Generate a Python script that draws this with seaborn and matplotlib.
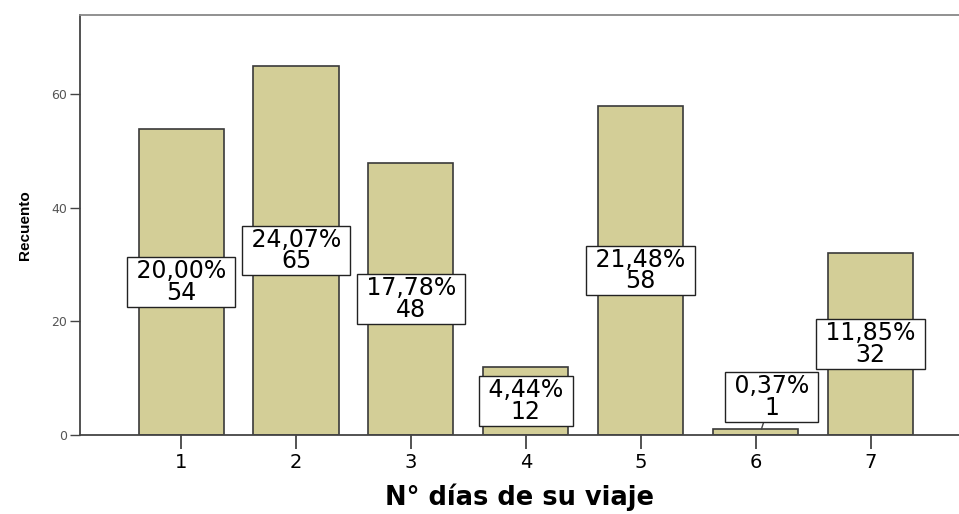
import numpy as np
import pandas as pd
import matplotlib
matplotlib.use("Agg")
import matplotlib.pyplot as plt
import seaborn as sns

# Data
dias = ["1", "2", "3", "4", "5", "6", "7"]
recuento = [54, 65, 48, 12, 58, 1, 32]
porcentaje = ["20,00%", "24,07%", "17,78%", "4,44%", "21,48%", "0,37%", "11,85%"]

sns.set_style("white")
plt.rcParams['font.family'] = ['DejaVu Sans']
plt.rcParams['text.color'] = 'black'
plt.rcParams['axes.labelcolor'] = 'black'

df = pd.DataFrame({"dias": dias, "recuento": recuento})

fig = plt.figure(figsize=(9.59, 5.14), dpi=100)
ax = fig.add_axes([0.0834, 0.1537, 0.9166, 0.8171])

sns.barplot(data=df, x="dias", y="recuento", color="#d3ce97", saturation=1,
            width=0.74, edgecolor="#3a3a3a", linewidth=1.2, ax=ax)

ax.set_xlim(-0.88, 6.77)
ax.set_ylim(0, 74)
ax.set_yticks([0, 20, 40, 60])

box = dict(boxstyle="square,pad=0.08", fc="white", ec="#222222", lw=1)

# Labels in white boxes, centred in each bar
for i, (v, p) in enumerate(zip(recuento, porcentaje)):
    label = f" {p} \n{v}"
    if v < 5:
        # tiny bar: box above it with a short leader line
        ax.annotate(label, xy=(i + 0.05, v), xytext=(i + 0.14, 6.7),
                    ha="center", va="center", fontsize=17, linespacing=0.88,
                    bbox=box,
                    arrowprops=dict(arrowstyle="-", color="#444444", lw=1,
                                    shrinkA=0, shrinkB=0))
    else:
        ax.text(i, v / 2, label, ha="center", va="center", fontsize=17,
                linespacing=0.88, bbox=box)

for side in ["left", "bottom"]:
    ax.spines[side].set_color("#444444")
    ax.spines[side].set_linewidth(1.3)
ax.spines["top"].set_color("#888888")
ax.spines["top"].set_linewidth(1.3)
ax.spines["right"].set_visible(False)

ax.tick_params(axis="y", direction="out", length=7, width=1, color="#444444",
               labelsize=9, labelcolor="#555555", left=True, pad=2)
ax.tick_params(axis="x", direction="out", length=10, width=1.3, color="#444444",
               labelsize=14, labelcolor="black", bottom=True, pad=3)

ax.set_ylabel("Recuento", fontsize=11, fontweight="bold", labelpad=14,
              family=["Liberation Sans Narrow", "Liberation Sans"])
ax.set_xlabel("N° días de su viaje", fontsize=18.5, fontweight="bold", labelpad=8)

fig.savefig("out.png", dpi=100)
